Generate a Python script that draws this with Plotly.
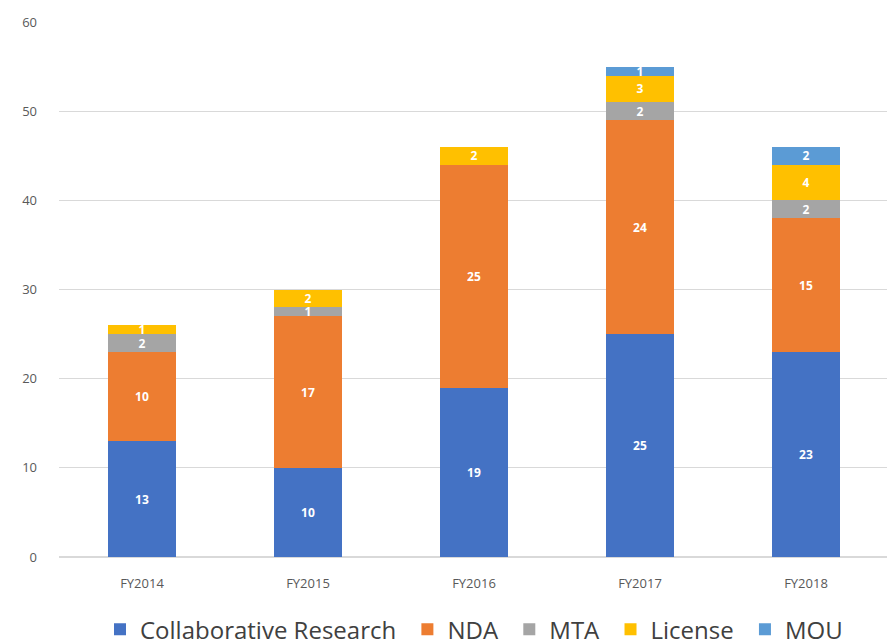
import plotly.graph_objects as go

categories = ["FY2014", "FY2015", "FY2016", "FY2017", "FY2018"]
collab = [13, 10, 19, 25, 23]
nda = [10, 17, 25, 24, 15]
mta = [2, 1, 0, 2, 2]
license_ = [1, 2, 2, 3, 4]
mou = [0, 0, 0, 1, 2]

series = [
    ("Collaborative Research\u00a0", collab, "#4472C4"),
    ("NDA\u00a0", nda, "#ED7D31"),
    ("MTA\u00a0", mta, "#A5A5A5"),
    ("License\u00a0", license_, "#FFC000"),
    ("MOU", mou, "#5B9BD5"),
]

fig = go.Figure()
for name, vals, color in series:
    fig.add_trace(go.Bar(
        name=name, x=categories, y=vals, marker_color=color,
        marker_line_width=0,
        text=[str(v) if v else "" for v in vals],
        textposition="inside", insidetextanchor="middle",
        textfont=dict(color="white", size=12, family="Open Sans"),
        texttemplate="<b>%{text}</b>",
        textangle=0,
        cliponaxis=False,
    ))

fig.update_layout(
    barmode="stack",
    bargap=0.59,
    width=895, height=644,
    margin=dict(l=51, r=14, t=14, b=95, autoexpand=False),
    plot_bgcolor="white", paper_bgcolor="white",
    font=dict(family="Open Sans", color="#595959"),
    uniformtext=dict(minsize=12, mode="show"),
    legend=dict(orientation="h", x=0.5, xanchor="center", y=-0.136, yanchor="middle",
                font=dict(size=24, color="#404040"), traceorder="normal",
                itemwidth=30),
    xaxis=dict(tickfont=dict(size=13, color="#595959"), showline=False, ticks="",
               ticklabelstandoff=17, automargin=False),
    yaxis=dict(range=[0, 60], dtick=10, gridcolor="#D9D9D9", gridwidth=1,
               tickfont=dict(size=13, color="#595959"), zeroline=True,
               zerolinecolor="#D9D9D9", ticklabelstandoff=21, automargin=False),
)

fig.write_html("out.html")
